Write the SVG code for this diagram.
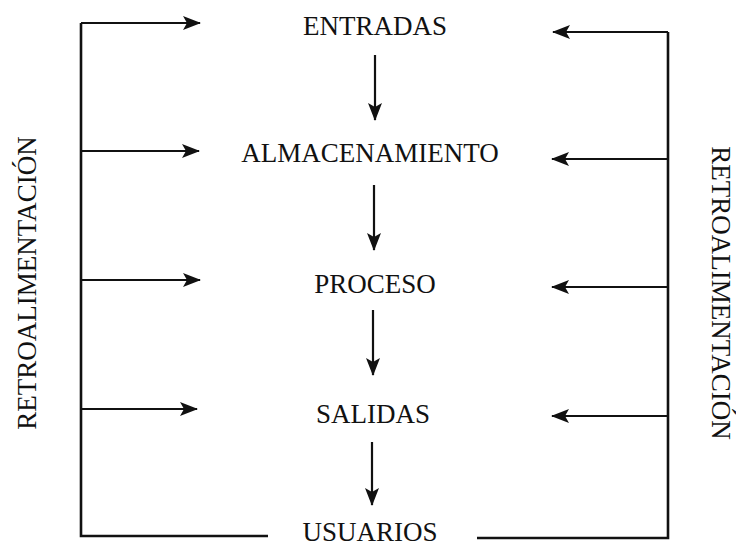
<svg xmlns="http://www.w3.org/2000/svg" width="736" height="549" viewBox="0 0 736 549">
<style>
.t{font-family:"Liberation Serif","DejaVu Serif",serif;font-size:27px;fill:#111;}
.c{text-anchor:middle;}
.ln{stroke:#111;stroke-width:2.6;fill:none;}
.ar{stroke:#111;stroke-width:2.2;fill:none;marker-end:url(#ah);}
</style>
<defs>
<marker id="ah" markerUnits="userSpaceOnUse" markerWidth="18" markerHeight="14" viewBox="0 0 18 14" refX="17" refY="7" orient="auto">
<path d="M0,0 L18,7 L0,14 L4,7 Z" fill="#111"/>
</marker>
</defs>
<rect width="736" height="549" fill="#fff"/>
<g id="entradas"><text class="t c" x="375" y="35">ENTRADAS</text></g>
<g id="almacenamiento"><text class="t c" x="370" y="162">ALMACENAMIENTO</text></g>
<g id="proceso"><text class="t c" x="375" y="293">PROCESO</text></g>
<g id="salidas"><text class="t c" x="373" y="423">SALIDAS</text></g>
<g id="usuarios"><text class="t c" x="370" y="541">USUARIOS</text></g>
<g id="retro-izq"><text class="t c" transform="translate(36,283) rotate(-90)">RETROALIMENTACIÓN</text></g>
<g id="retro-der"><text class="t c" transform="translate(712,293) rotate(90)">RETROALIMENTACIÓN</text></g>
<g id="connectors">
<path class="ln" d="M81,23 L81,536 L268,536"/>
<path class="ln" d="M477,538 L668,538 L668,32"/>
<line class="ar" x1="81" y1="23" x2="200" y2="23"/>
<line class="ar" x1="81" y1="151" x2="199" y2="151"/>
<line class="ar" x1="81" y1="280" x2="200" y2="280"/>
<line class="ar" x1="81" y1="409" x2="197" y2="409"/>
<line class="ar" x1="668" y1="32" x2="553" y2="32"/>
<line class="ar" x1="668" y1="159" x2="552" y2="159"/>
<line class="ar" x1="668" y1="287" x2="552" y2="287"/>
<line class="ar" x1="668" y1="416" x2="552" y2="416"/>
<line class="ar" x1="375" y1="55" x2="375" y2="120"/>
<line class="ar" x1="374" y1="185" x2="374" y2="250"/>
<line class="ar" x1="373" y1="310" x2="373" y2="375"/>
<line class="ar" x1="372" y1="442" x2="372" y2="505"/>
</g>
</svg>
